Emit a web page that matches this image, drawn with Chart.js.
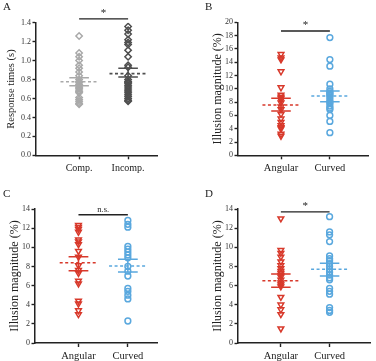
<!DOCTYPE html>
<html>
<head>
<meta charset="utf-8">
<script src="https://cdn.jsdelivr.net/npm/chart.js@4.4.1/dist/chart.umd.min.js"></script>
<style>
    body { margin: 0; background: #fff; }
    #wrap { position: relative; width: 376px; height: 361px; }
    canvas { position: absolute; }
</style>
</head>
<body>
<div id="wrap">
    <canvas id="chartA" width="188" height="180" style="left:0;top:0"></canvas>
    <canvas id="chartB" width="188" height="180" style="left:188px;top:0"></canvas>
    <canvas id="chartC" width="188" height="181" style="left:0;top:180px"></canvas>
    <canvas id="chartD" width="188" height="181" style="left:188px;top:180px"></canvas>
</div>
<script>
// ---- data ----
const catsA = ['Comp.', 'Incomp.'];
const catsShape = ['Angular', 'Curved'];

// A: response times (s)
const compTimes = [1.26, 1.08, 1.04, 1.00, 0.95, 0.92, 0.88, 0.84, 0.80, 0.78, 0.77, 0.75, 0.74, 0.72, 0.71, 0.70, 0.68, 0.67, 0.66, 0.61, 0.59, 0.57, 0.55, 0.54];
const incompTimes = [1.36, 1.32, 1.28, 1.22, 1.19, 1.17, 1.11, 1.04, 0.95, 0.93, 0.84, 0.80, 0.78, 0.77, 0.76, 0.74, 0.72, 0.70, 0.68, 0.66, 0.64, 0.62, 0.60, 0.58, 0.57];
const meanA = [0.777, 0.862];
const semA = [[0.735, 0.819], [0.826, 0.919]];

// B: illusion magnitude (%)
const angularB = [15.2, 14.7, 14.4, 12.6, 10.2, 9.1, 8.8, 8.6, 8.3, 7.9, 7.3, 6.9, 6.2, 5.5, 5.0, 4.5, 4.2, 4.0, 3.2, 2.9];
const curvedB = [17.7, 14.4, 13.4, 10.7, 10.0, 9.6, 9.4, 9.2, 9.0, 8.7, 8.3, 8.0, 7.8, 7.4, 7.1, 6.9, 6.0, 5.1, 3.4];
const meanB = [7.56, 8.92];
const semB = [[6.66, 8.57], [8.06, 9.67]];

// C
const angularC = [12.3, 12.1, 11.9, 11.6, 10.8, 10.6, 10.3, 9.6, 9.0, 8.1, 7.6, 7.3, 6.5, 6.2, 4.4, 4.1, 3.4, 3.0];
const curvedC = [12.8, 12.4, 12.1, 10.1, 9.8, 9.5, 9.2, 8.9, 8.0, 7.5, 7.0, 5.7, 5.4, 5.0, 4.6, 2.3];
const meanC = [8.39, 8.04];
const semC = [[7.55, 9.02], [7.42, 8.74]];

// D
const angularD = [13.0, 9.7, 9.4, 9.0, 8.5, 8.1, 7.8, 7.5, 7.3, 7.1, 6.9, 6.6, 6.3, 6.1, 5.9, 4.8, 4.0, 3.5, 3.0, 1.5];
const curvedD = [13.2, 11.6, 11.3, 10.6, 9.1, 8.8, 8.6, 8.3, 8.0, 7.7, 7.4, 7.1, 6.8, 6.6, 5.7, 5.4, 5.1, 3.7, 3.4, 3.2];
const meanD = [6.51, 7.70];
const semD = [[5.82, 7.21], [7.00, 8.33]];

// significance bars: [bar height, label]
const sigA = [1.44, '*'];
const sigB = [18.7, '*'];
const sigC = [13.4, 'n.s.'];
const sigD = [13.7, '*'];

const FONT = "'Liberation Serif', 'DejaVu Serif', serif";
const AXIS = '#222';

// text above the significance bar + panel letter
const sigLabel = {
    id: 'sigLabel',
    afterDatasetsDraw(chart) {
        const o = chart.options.plugins.sigLabel;
        const ctx = chart.ctx;
        ctx.save();
        ctx.fillStyle = AXIS;
        ctx.font = o.size + 'px ' + FONT;
        ctx.textAlign = 'center';
        ctx.textBaseline = 'bottom';
        ctx.fillText(o.text, chart.scales.x.getPixelForValue(1.5), chart.scales.y.getPixelForValue(o.y) - o.gap);
        ctx.font = '11px ' + FONT;
        ctx.textAlign = 'left';
        ctx.textBaseline = 'top';
        ctx.fillText(o.panel, o.px, o.py);
        ctx.restore();
    }
};

function groupSets(values, cx, color, style, mean, sem) {
    const pts = values.map(v => ({ x: cx, y: v }));
    const w = 0.2, m = 0.38;
    return [
        {   // mean
            data: [{ x: cx - m, y: mean }, { x: cx + m, y: mean }],
            showLine: true, borderColor: color, borderWidth: 1.6, borderDash: [3, 2.5],
            pointRadius: 0
        },
        {   // SEM
            data: [{ x: cx - w, y: sem[0] }, { x: cx + w, y: sem[0] }, { x: cx, y: null },
                   { x: cx - w, y: sem[1] }, { x: cx + w, y: sem[1] }, { x: cx, y: null },
                   { x: cx, y: sem[0] }, { x: cx, y: sem[1] }],
            showLine: true, borderColor: color, borderWidth: 1.5, pointRadius: 0, spanGaps: false
        },
        {   // points
            data: pts,
            pointStyle: style.shape, rotation: style.rot || 0,
            pointRadius: style.r, borderWidth: 1.5,
            borderColor: color, backgroundColor: 'rgba(255,255,255,0)'
        }
    ];
}

function makeChart(id, cfg) {
    const H = document.getElementById(id).height;
    const W = 188;
    const titleLH = cfg.titleSize * 1.2;
    const datasets = [
        {   // significance bar
            data: [{ x: 1, y: cfg.sig[0] }, { x: 2, y: cfg.sig[0] }],
            showLine: true, borderColor: AXIS, borderWidth: 1.4, pointRadius: 0, clip: false
        },
        ...groupSets(cfg.v1, 1, cfg.c1, cfg.s1, cfg.mean[0], cfg.sem[0]),
        ...groupSets(cfg.v2, 2, cfg.c2, cfg.s2, cfg.mean[1], cfg.sem[1])
    ];
    return new Chart(document.getElementById(id), {
        type: 'scatter',
        data: { datasets },
        plugins: [sigLabel],
        options: {
            responsive: false,
            animation: false,
            events: [],
            layout: { padding: { left: 0, top: cfg.top, right: W - cfg.right, bottom: 0 } },
            plugins: {
                legend: { display: false },
                tooltip: { enabled: false },
                sigLabel: { text: cfg.sig[1], y: cfg.sig[0], gap: cfg.sig[1] === '*' ? 0 : 1,
                            size: cfg.sig[1] === '*' ? 11 : 8.5, panel: cfg.panel, px: cfg.px, py: cfg.py }
            },
            scales: {
                x: {
                    type: 'linear', min: cfg.xmin, max: cfg.xmax,
                    afterBuildTicks: s => { s.ticks = [{ value: 1 }, { value: 2 }]; },
                    afterFit: s => { s.height = H - cfg.bottom; },
                    border: { color: AXIS, width: 1.5 },
                    grid: { drawOnChartArea: false, tickLength: 4, color: AXIS, tickWidth: 1.4 },
                    ticks: { padding: 3, color: '#222', font: { family: FONT, size: cfg.catSize },
                             callback: v => cfg.cats[Math.round(v) - 1], maxRotation: 0, autoSkip: false }
                },
                y: {
                    min: 0, max: cfg.ymax,
                    afterFit: s => { s.width = cfg.left; },
                    border: { color: AXIS, width: 1.5 },
                    grid: { drawOnChartArea: false, tickLength: 3.5, color: AXIS, tickWidth: 1.4 },
                    ticks: { stepSize: cfg.step, padding: 1.5, color: '#333',
                             font: { family: FONT, size: 8 },
                             callback: v => cfg.step < 1 ? v.toFixed(1) : v },
                    title: { display: true, text: cfg.title, color: '#222',
                             font: { family: FONT, size: cfg.titleSize },
                             padding: { top: cfg.titleX - titleLH / 2, bottom: 0 } }
                }
            }
        }
    });
}

const triDown = { shape: 'triangle', rot: 180, r: 3.3 };
const circ = { shape: 'circle', r: 2.9 };
const diam = { shape: 'rectRot', r: 3.2 };

makeChart('chartA', {
    panel: 'A', px: 3, py: 2,
    left: 36, right: 157, top: 22.7, bottom: 155.3, xmin: 0.12, xmax: 2.59,
    ymax: 1.4, step: 0.2, title: 'Response times (s)', titleSize: 10.5, titleX: 11, catSize: 10,
    cats: catsA, v1: compTimes, v2: incompTimes, c1: '#a9a9a9', c2: '#4f4f4f', s1: diam, s2: diam,
    mean: meanA, sem: semA, sig: sigA
});
makeChart('chartB', {
    panel: 'B', px: 17, py: 2,
    left: 50, right: 180, top: 22.3, bottom: 155.3, xmin: 0.12, xmax: 2.78,
    ymax: 20, step: 2, title: 'Illusion magnitude (%)', titleSize: 12, titleX: 30, catSize: 10.5,
    cats: catsShape, v1: angularB, v2: curvedB, c1: '#d8392b', c2: '#5aa8de', s1: triDown, s2: circ,
    mean: meanB, sem: semB, sig: sigB
});
makeChart('chartC', {
    panel: 'C', px: 3, py: 9,
    left: 35, right: 157, top: 29, bottom: 163, xmin: 0.12, xmax: 2.59,
    ymax: 14, step: 2, title: 'Illusion magnitude (%)', titleSize: 12, titleX: 15, catSize: 10.5,
    cats: catsShape, v1: angularC, v2: curvedC, c1: '#d8392b', c2: '#5aa8de', s1: triDown, s2: circ,
    mean: meanC, sem: semC, sig: sigC
});
makeChart('chartD', {
    panel: 'D', px: 17, py: 9,
    left: 50, right: 183, top: 29, bottom: 163, xmin: 0.12, xmax: 2.84,
    ymax: 14, step: 2, title: 'Illusion magnitude (%)', titleSize: 12, titleX: 30, catSize: 10.5,
    cats: catsShape, v1: angularD, v2: curvedD, c1: '#d8392b', c2: '#5aa8de', s1: triDown, s2: circ,
    mean: meanD, sem: semD, sig: sigD
});
</script>
</body>
</html>
